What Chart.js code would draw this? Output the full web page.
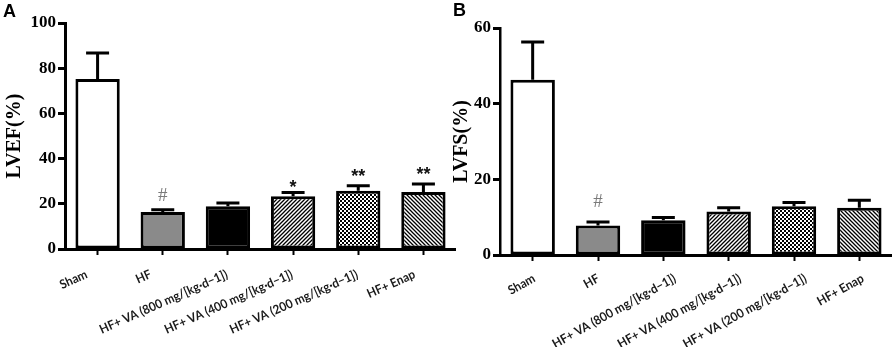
<!DOCTYPE html>
<html>
<head>
<meta charset="utf-8">
<script src="https://cdn.jsdelivr.net/npm/chart.js@4"></script>
<style>
  html, body { margin: 0; padding: 0; background: #fff; }
  #wrap { position: relative; width: 892px; height: 347px; overflow: hidden; }
  .cv { position: absolute; top: 0; }
  .panel { position: absolute; font-family: "Liberation Sans", Arial, sans-serif; font-weight: bold; font-size: 18px; color: #000; line-height: 1; }
</style>
</head>
<body>
<div id="wrap">
  <div class="cv" style="left:0;width:456px;height:347px;"><canvas id="cA"></canvas></div>
  <div class="cv" style="left:450px;width:442px;height:347px;"><canvas id="cB"></canvas></div>
  <div class="panel" style="left:3px;top:2px;">A</div>
  <div class="panel" style="left:453px;top:1px;">B</div>
</div>
<script>
// ---- data ----
const categories = ["Sham", "HF", "HF+ VA (800 mg/[kg·d−1])", "HF+ VA (400 mg/[kg·d−1])", "HF+ VA (200 mg/[kg·d−1])", "HF+ Enap"];
const lvefMean = [75.2, 16.4, 18.9, 23.3, 25.8, 25.2];
const lvefErr  = [11.5, 1.0, 1.5, 1.7, 2.2, 3.6];
const lvefMarks = ["", "#", "", "*", "**", "**"];
const lvfsMean = [46.3, 7.8, 9.2, 11.5, 12.9, 12.5];
const lvfsErr  = [10.0, 0.9, 0.7, 1.0, 1.0, 2.0];
const lvfsMarks = ["", "#", "", "", "", ""];
const lvefTicks = [0, 20, 40, 60, 80, 100];
const lvfsTicks = [0, 20, 40, 60];

// ---- fills ----
function makePattern(kind) {
  const c = document.createElement('canvas');
  const s = 4;
  c.width = s; c.height = s;
  const g = c.getContext('2d');
  g.fillStyle = '#fff'; g.fillRect(0, 0, s, s);
  g.fillStyle = '#000'; g.strokeStyle = '#000'; g.lineWidth = 1.3;
  if (kind === 'fwd') {
    g.beginPath();
    g.moveTo(-1, s + 1); g.lineTo(s + 1, -1);
    g.moveTo(-1, 1); g.lineTo(1, -1);
    g.moveTo(s - 1, s + 1); g.lineTo(s + 1, s - 1);
    g.stroke();
  } else if (kind === 'back') {
    g.beginPath();
    g.moveTo(-1, -1); g.lineTo(s + 1, s + 1);
    g.moveTo(s - 1, -1); g.lineTo(s + 1, 1);
    g.moveTo(-1, s - 1); g.lineTo(1, s + 1);
    g.stroke();
  } else if (kind === 'check') {
    g.fillRect(0, 0, 2, 2);
    g.fillRect(2, 2, 2, 2);
  }
  return g.createPattern(c, 'repeat');
}
const fills = ['#ffffff', '#8a8a8a', '#000000', makePattern('fwd'), makePattern('check'), makePattern('back')];

// ---- error bars + marks plugin ----
const errPlugin = {
  id: 'errbars',
  afterDatasetsDraw(chart, args, opts) {
    const ctx = chart.ctx;
    const meta = chart.getDatasetMeta(0);
    const ys = chart.scales.y;
    ctx.save();
    ctx.strokeStyle = '#000';
    ctx.lineWidth = 3;
    meta.data.forEach((bar, i) => {
      const m = opts.mean[i], e = opts.err[i];
      const yb = ys.getPixelForValue(m);
      const yt = ys.getPixelForValue(m + e);
      ctx.beginPath();
      ctx.moveTo(bar.x, yb);
      ctx.lineTo(bar.x, yt);
      ctx.moveTo(bar.x - 11.5, yt);
      ctx.lineTo(bar.x + 11.5, yt);
      ctx.stroke();
      const mk = opts.marks[i];
      if (mk) {
        ctx.textAlign = 'center';
        ctx.textBaseline = 'alphabetic';
        if (mk === '#') {
          ctx.fillStyle = '#7a7a7a';
          ctx.font = '19px "Liberation Serif"';
          ctx.fillText(mk, bar.x, yt - opts.hashGap);
        } else {
          ctx.fillStyle = '#111';
          ctx.font = 'bold 18px "Liberation Sans"';
          ctx.fillText(mk, bar.x, yt - opts.starGap[i]);
        }
      }
    });
    ctx.restore();
  }
};

// ---- rotated category labels, placed at the x scale's tick pixels ----
const labelPlugin = {
  id: 'xlabels',
  afterDraw(chart, args, opts) {
    const xs = chart.scales.x;
    const ctx = chart.ctx;
    ctx.save();
    ctx.font = 'bold 12.5px Lato';
    ctx.fillStyle = '#1a1a1a';
    const ang = -opts.angle * Math.PI / 180;
    const longest = Math.max(...categories.map(c => ctx.measureText(c).width));
    const sx = Math.min(1, opts.targetLen / longest);
    categories.forEach((c, i) => {
      const w = ctx.measureText(c).width * sx;
      const x = xs.getPixelForTick(i) + opts.baseDx + 0.09 * w;
      const y = xs.top + opts.dy;
      ctx.save();
      ctx.translate(x, y);
      ctx.rotate(ang);
      ctx.scale(sx, 1);
      ctx.textAlign = 'right';
      ctx.textBaseline = 'top';
      ctx.fillText(c, 0, 0);
      ctx.restore();
    });
    ctx.restore();
  }
};

function makeChart(id, mean, err, marks, ticksArr, title, yWidth, padTop, xHeight, hashGap, starGap, axisW, titlePad, lab) {
  const maxV = ticksArr[ticksArr.length - 1];
  return new Chart(document.getElementById(id), {
    type: 'bar',
    data: {
      labels: categories,
      datasets: [{
        data: mean,
        backgroundColor: fills,
        borderColor: '#000',
        borderWidth: 3,
        borderSkipped: false,
        barPercentage: 0.68,
        categoryPercentage: 1.0
      }]
    },
    options: {
      responsive: true,
      maintainAspectRatio: false,
      animation: false,
      events: [],
      layout: { padding: { top: padTop, left: 0, right: 0, bottom: 0 } },
      plugins: {
        legend: { display: false },
        tooltip: { enabled: false },
        errbars: { mean: mean, err: err, marks: marks, hashGap: hashGap, starGap: starGap },
        xlabels: lab
      },
      scales: {
        x: {
          afterFit(s) { s.height = xHeight; },
          grid: { drawOnChartArea: false, drawTicks: true, tickLength: 6, tickWidth: 2, tickColor: '#000', offset: false },
          border: { display: true, color: '#000', width: 3 },
          ticks: { display: false, autoSkip: false }
        },
        y: {
          min: 0, max: maxV,
          afterFit(s) { s.width = yWidth; },
          afterBuildTicks(s) { s.ticks = ticksArr.map(v => ({ value: v })); },
          grid: { drawOnChartArea: false, drawTicks: true, tickLength: 7, tickWidth: 3, tickColor: '#000' },
          border: { display: true, color: '#000', width: axisW },
          ticks: {
            color: '#000', padding: 2,
            font: { family: 'Liberation Serif', weight: 'bold', size: 17 }
          },
          title: {
            display: true, text: title, color: '#000',
            padding: { top: titlePad, bottom: 0 },
            font: { family: 'Liberation Serif', weight: 'bold', size: 20 }
          }
        }
      }
    },
    plugins: [errPlugin, labelPlugin]
  });
}

makeChart('cA', lvefMean, lvefErr, lvefMarks, lvefTicks, 'LVEF(%)', 65, 23, 98, 9, [0, 0, 0, 0, 4, 3.5], 3, 3,
  { angle: 24, baseDx: -16, dy: 19, targetLen: 139 });
makeChart('cB', lvfsMean, lvfsErr, lvfsMarks, lvfsTicks, 'LVFS(%)', 50, 28, 92, 15, [0, 0, 0, 0, 0, 0], 2.5, 0,
  { angle: 29, baseDx: -4, dy: 17, targetLen: 139 });
</script>
</body>
</html>
